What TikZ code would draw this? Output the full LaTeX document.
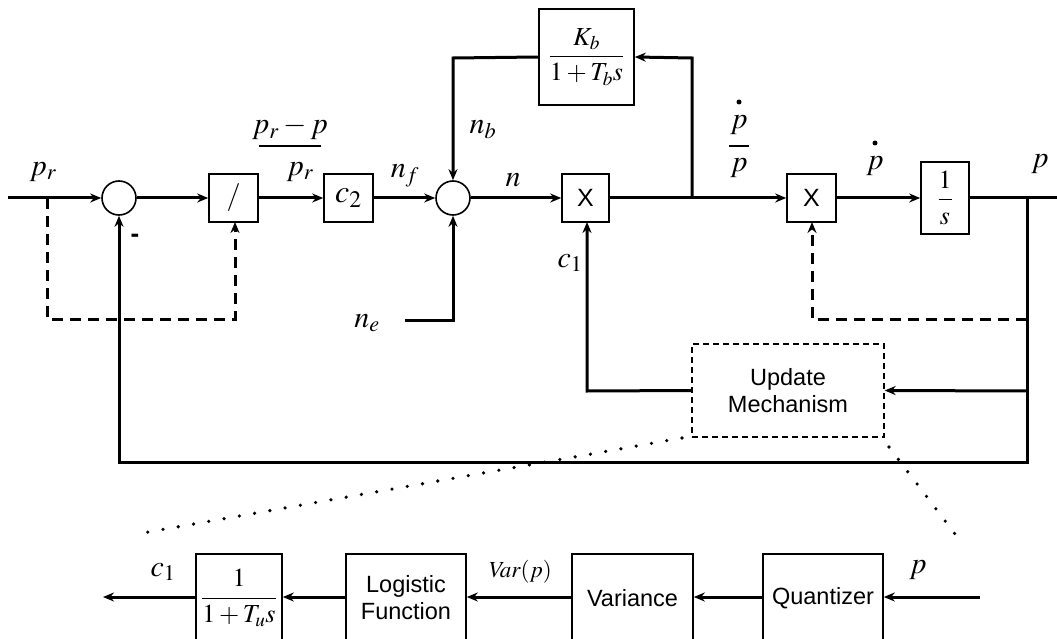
\documentclass[tikz,border=0pt]{standalone}
\usepackage{amsmath}
\usepackage{mathptmx}
\usepackage{fontspec}
\newfontfamily\arial{Liberation Sans}
\usetikzlibrary{arrows.meta}
\begin{document}
\begin{tikzpicture}[x=1pt,y=-1pt,
  every node/.style={inner sep=0pt, font=\fontsize{26}{28}\selectfont},
  blk/.style={draw, line width=1.6pt, minimum width=49pt, minimum height=48pt},
  sumc/.style={circle, draw, line width=1.6pt, minimum size=34pt},
  ln/.style={line width=3pt},
  arr/.style={line width=3pt, -{Stealth[length=11pt,width=9pt]}},
  dsh/.style={line width=3pt, dash pattern=on 11pt off 7pt},
  darr/.style={dsh, -{Stealth[length=11pt,width=9pt]}},
  lbl/.style={font=\fontsize{30}{32}\selectfont},
  sans/.style={font=\arial\fontsize{23.5}{27}\selectfont, align=center},
  xbox/.style={blk, font=\arial\fontsize{25}{27}\selectfont},
  dots/.style={line width=3.6pt, line cap=round, dash pattern=on 0pt off 15.5pt}
]
\clip (0,0) rectangle (1057,639);
\fill[white] (0,0) rectangle (1057,639);

% main nodes
\coordinate (in) at (8,198);
\node[sumc] (s1) at (119,198) {};
\node[blk, font=\fontsize{28}{30}\selectfont] (div) at (233.5,198) {$/$};
\node[blk, font=\fontsize{32}{34}\selectfont] (c2) at (348.5,198) {$c_2$};
\node[sumc] (s2) at (453,198) {};
\node[blk, minimum width=95pt, minimum height=96pt] (kb) at (586.5,57) {$\dfrac{K_b}{1+T_b s}$};
\node[xbox, minimum width=47pt] (x1) at (585.5,198) {X};
\coordinate (br) at (692,198);
\node[xbox] (x2) at (811.5,198) {X};
\node[blk, minimum width=48pt, minimum height=72pt] (int) at (945,198) {$\dfrac{1}{s}$};
\coordinate (j) at (1027,198);
\coordinate (out) at (1060,198);
\node[draw, line width=1.3pt, dash pattern=on 6pt off 4pt, minimum width=192pt, minimum height=93pt, sans] (um) at (788,390.5) {Update\\Mechanism};

% bottom row
\node[blk, minimum width=86pt, minimum height=88pt] (tu) at (239,598) {$\dfrac{1}{1+T_u s}$};
\node[blk, minimum width=120pt, minimum height=88pt, sans] (logi) at (406,598) {Logistic\\Function};
\node[blk, minimum width=121pt, minimum height=88pt, sans] (var) at (632.5,598) {Variance};
\node[blk, minimum width=120pt, minimum height=88pt, sans] (quant) at (823,598) {Quantizer};
\coordinate (pin) at (980,597);
\coordinate (c1o) at (103,597);

% connectors main path
\draw[arr] (in) -- (s1);
\draw[arr] (s1) -- (div);
\draw[arr] (div) -- (c2);
\draw[arr] (c2) -- (s2);
\draw[arr] (s2) -- (x1);
\draw[ln] (x1) -- (br);
\draw[arr] (br) -- (x2);
\draw[arr] (x2) -- (int);
\draw[ln] (int) -- (out);

% dashed branches
\coordinate (d1) at (47,198);
\draw[darr] (d1) -- (47,319) -- (235,319) -- (235,222);
\coordinate (d2) at (1027,319);
\draw[darr] (d2) -- (812,319) -- (812,222);

% Kb loop
\draw[arr] (br) -- (692,58) -- (kb.east);
\draw[arr] (kb.west) -- (453,58) -- (s2.north);

% ne input
\coordinate (ne) at (405,320);
\draw[arr] (ne) -- (453,320) -- (s2.south);

% feedback
\draw[arr] (j) -- (1027,462) -- (119,462) -- (s1.south);
\coordinate (u1) at (1027,391);
\draw[arr] (u1) -- (um.east);
\draw[arr] (um.west) -- (587,391) -- (587,222);

% bottom row arrows
\draw[arr] (pin) -- (quant.east |- pin);
\draw[arr] (quant.west |- pin) -- (var.east |- pin);
\draw[arr] (var.west |- pin) -- (logi.east |- pin);
\draw[arr] (logi.west |- pin) -- (tu.east |- pin);
\draw[arr] (tu.west |- pin) -- (c1o);

% dotted zoom lines
\coordinate (zl) at (682,438);
\coordinate (zr) at (889,447);
\draw[dots] (zl) -- (137,534);
\draw[dots] (zr) -- (955,534);

% labels
\node[lbl] (lpr) at (43,172) {$p_r$};
\node[lbl] (lnum) at (290,128) {$p_r-p$};
\draw[line width=1.2pt] (259,146) -- (321,146);
\node[lbl] (lden) at (300,172) {$p_r$};
\node[font=\arial\fontsize{26}{28}\bfseries] (lminus) at (135,238) {-};
\node[lbl] (lnf) at (405,176) {$n_f$};
\node[lbl] (lnb) at (483,130) {$n_b$};
\node[lbl] (ln) at (513,180) {$n$};
\node[lbl] (lne) at (367,323) {$n_e$};
\node[lbl] (lc1) at (570,263) {$c_1$};
\fill (739,102) circle (2.5pt);
\node[lbl] (lpn) at (739,125) {$p$};
\draw[line width=1.2pt] (729,146) -- (749,146);
\node[lbl] (lpd) at (739,168) {$p$};
\fill (875,143) circle (2.5pt);
\node[lbl] (lpdot) at (875,166) {$p$};
\node[lbl] (lp) at (1040,164) {$p$};
\node[lbl] (lc1b) at (163,572) {$c_1$};
\node[font=\fontsize{23}{25}\selectfont] (lvar) at (520,572) {$\mathit{Var}(p)$};
\node[lbl] (lpb) at (918,570) {$p$};
\end{tikzpicture}
\end{document}
